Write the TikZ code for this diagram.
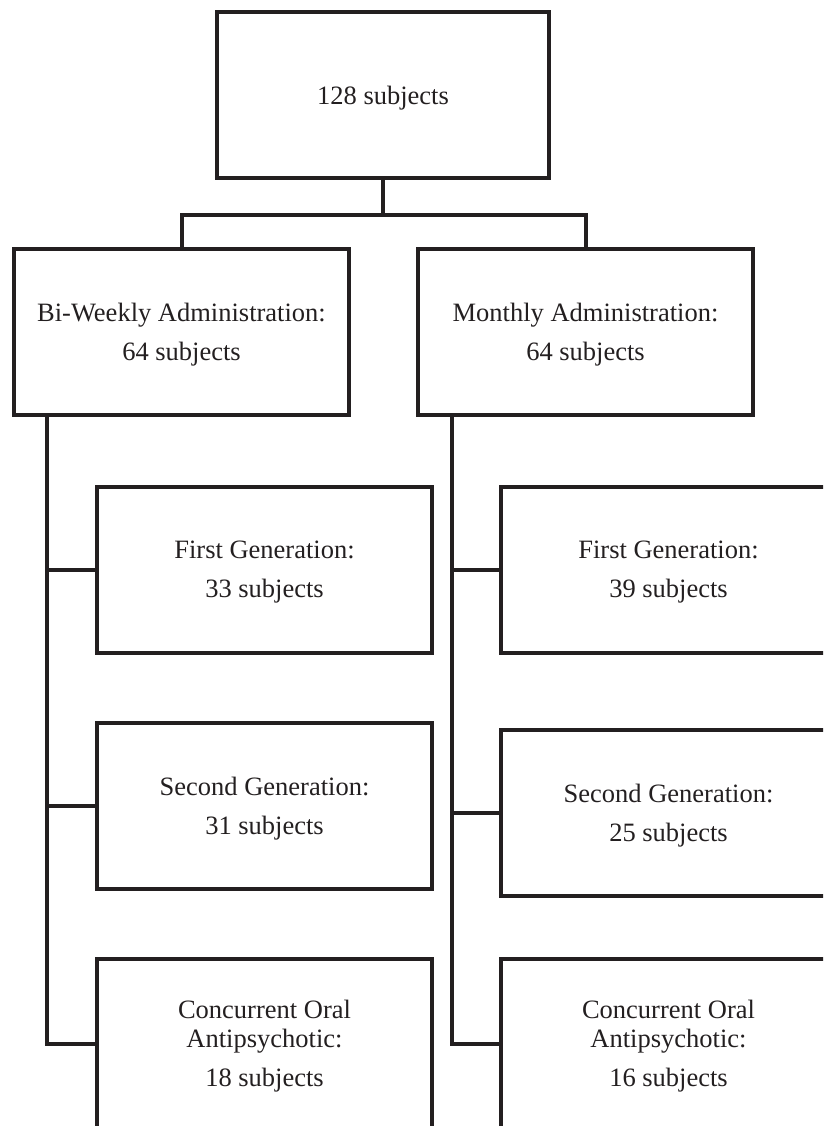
\documentclass[tikz,border=0pt]{standalone}
\usepackage{fontspec}
\setmainfont{Liberation Serif}
\usetikzlibrary{positioning}
\definecolor{ink}{HTML}{231F20}
\tikzset{box/.style={draw=ink, text=ink, align=center, minimum width=335pt, minimum height=166pt, inner sep=0pt, outer sep=0pt, text depth=0pt, font=\fontsize{26.5}{29}\selectfont}}

\begin{document}
\begin{tikzpicture}[node distance=70pt, line width=4pt]

\useasboundingbox (0,0) rectangle (823pt,-1126pt);

\clip (0,0) rectangle (823pt,-1126pt);

\node(top)[box, minimum width=332pt] at (383pt,-95pt){128 subjects};

\node(bw)[box] at (181.5pt,-331.5pt){Bi-Weekly Administration:\\[10pt]64 subjects};

\node(mo)[box] at (585.5pt,-331.5pt){Monthly Administration:\\[10pt]64 subjects};

\node(bw1)[box, below right = 72pt and 83pt of bw.south west]{First Generation:\\[10pt]33 subjects};

\node(bw2)[box, below = 70pt of bw1]{Second Generation:\\[10pt]31 subjects};

\node(bw3)[box, below = 70pt of bw2, minimum height=170pt]{Concurrent Oral\\Antipsychotic:\\[10pt]18 subjects};

\node(mo1)[box, below right = 72pt and 83pt of mo.south west]{First Generation:\\[10pt]39 subjects};

\node(mo2)[box, below = 77pt of mo1]{Second Generation:\\[10pt]25 subjects};

\node(mo3)[box, below = 63pt of mo2, minimum height=170pt]{Concurrent Oral\\Antipsychotic:\\[10pt]16 subjects};

\draw[ink] (top.south) -- ++(0,-37pt) coordinate (split);

\draw[ink] (bw.north) |- (split) -| (mo.north);

\coordinate (bwt) at ([xshift=33pt]bw.south west);

\coordinate (mot) at ([xshift=34pt]mo.south west);

\draw[ink] (bw3.west) -| (bwt);

\draw[ink] (bw1.west) -- (bw1.west -| bwt);

\draw[ink] (bw2.west) -- (bw2.west -| bwt);

\draw[ink] (mo3.west) -| (mot);

\draw[ink] (mo1.west) -- (mo1.west -| mot);

\draw[ink] (mo2.west) -- (mo2.west -| mot);

\end{tikzpicture}
\end{document}
